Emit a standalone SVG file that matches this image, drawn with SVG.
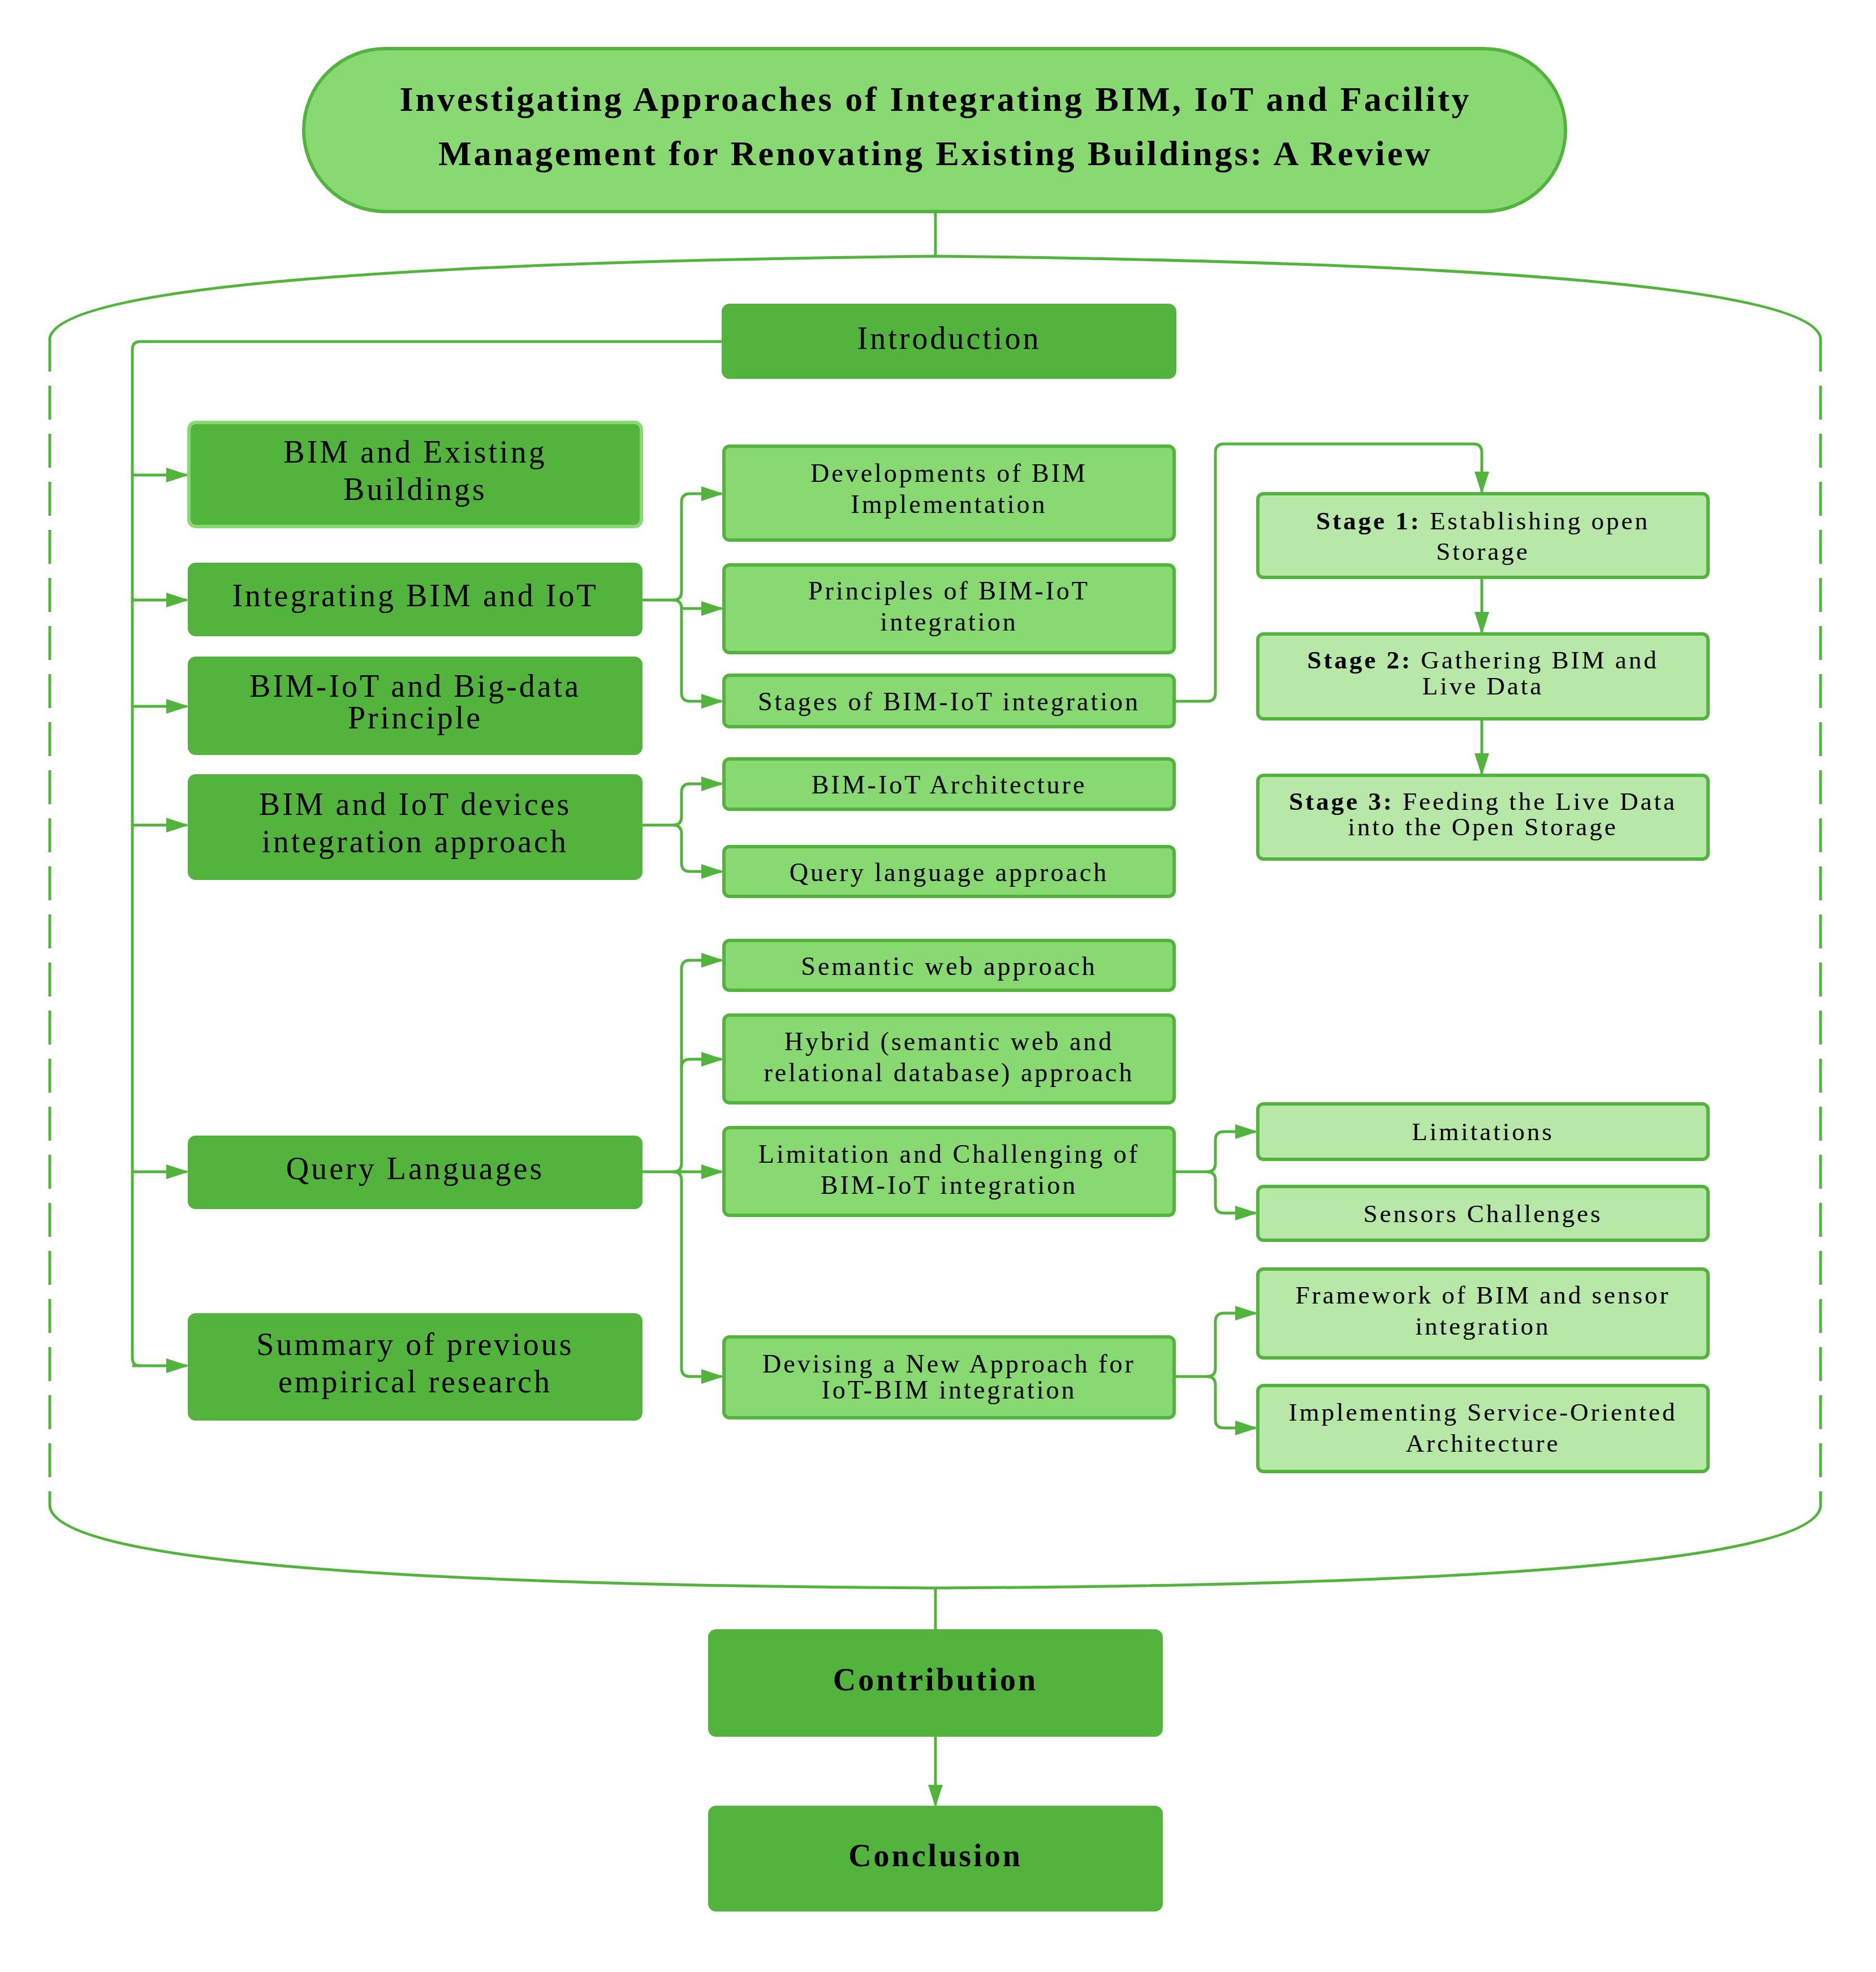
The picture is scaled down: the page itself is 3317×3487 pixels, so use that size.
<svg xmlns="http://www.w3.org/2000/svg" width="3317" height="3487" viewBox="0 0 3317 3487">
<style>
.d{fill:#52b43c;stroke:#52b43c;stroke-width:4}
.m{fill:#88d971;stroke:#52b43c;stroke-width:6}
.l{fill:#b8e8a8;stroke:#52b43c;stroke-width:6}
text{font-family:"Liberation Serif",serif;fill:#000;text-anchor:middle;letter-spacing:4px}
.tl{font-size:56px}
.tm{font-size:46px}
.tr{font-size:45px}
.c{fill:none;stroke:#52b43c;stroke-width:5}
.c path.a{marker-end:url(#A)}
</style>
<defs>
<marker id="A" viewBox="0 0 10 10" refX="9" refY="5" markerWidth="40" markerHeight="26" markerUnits="userSpaceOnUse" orient="auto" preserveAspectRatio="none"><path d="M0,0L10,5L0,10z" fill="#52b43c"/></marker></defs>
<rect width="3317" height="3487" fill="#fff"/>
<g id="connectors" class="c">
<path d="M1654,376V453"/>
<path d="M88,597Q120,470 1654,453Q3190,470 3219,597"/>
<path d="M88,597V2664M3219,597V2664" stroke-dasharray="60,25"/>
<path d="M88,2664Q110,2800 1654,2808Q3200,2800 3219,2664"/>
<path d="M1654,2808V2883"/>
<path class="a" d="M1654,3069V3192"/>
<path d="M1278,604H248q-14,0-14,14V2401q0,14 14,14"/>
<path class="a" d="M234,840H330"/><path class="a" d="M234,1061H330"/><path class="a" d="M234,1249H330"/><path class="a" d="M234,1459H330"/><path class="a" d="M234,2072H330"/><path class="a" d="M234,2415H330"/>
<path class="a" d="M1134,1061H1190q15,0 15,-15V888q0-15 15-15H1276"/>
<path class="a" d="M1190,1061q15,0 15,15H1276"/>
<path class="a" d="M1205,1076V1225q0,15 15,15H1276"/>
<path class="a" d="M1134,1459H1190q15,0 15-15V1401q0-15 15-15H1276"/>
<path class="a" d="M1190,1459q15,0 15,15V1526q0,15 15,15H1276"/>
<path class="a" d="M1134,2072H1190q15,0 15-15V1713q0-15 15-15H1276"/>
<path class="a" d="M1205,1888q0-15 15-15H1276"/>
<path class="a" d="M1190,2072H1276"/>
<path class="a" d="M1190,2072q15,0 15,15V2419q0,15 15,15H1276"/>
<path class="a" d="M2076,1240H2134q15,0 15-15V800q0-15 15-15H2605q15,0 15,15V870"/>
<path class="a" d="M2620,1021V1118"/><path class="a" d="M2620,1271V1368"/>
<path class="a" d="M2076,2072H2134q15,0 15-15V2016q0-15 15-15H2220"/>
<path class="a" d="M2134,2072q15,0 15,15V2130q0,15 15,15H2220"/>
<path class="a" d="M2076,2434H2134q15,0 15-15V2337q0-15 15-15H2220"/>
<path class="a" d="M2134,2434q15,0 15,15V2510q0,15 15,15H2220"/>
</g>
<g id="title"><rect x="537" y="86" width="2231" height="288" rx="144" fill="#88d971" stroke="#52b43c" stroke-width="6"/>
<text x="1654" y="196" font-size="62" font-weight="bold" letter-spacing="6">Investigating Approaches of Integrating BIM, IoT and Facility</text>
<text x="1654" y="292" font-size="62" font-weight="bold" letter-spacing="6">Management for Renovating Existing Buildings: A Review</text></g>
<g id="intro"><rect class="d" x="1278" y="539" width="800" height="129" rx="12"/><text class="tl" x="1678" y="617">Introduction</text></g>
<g id="bimexist"><rect x="334" y="747" width="800" height="184" rx="12" fill="#52b43c" stroke="#88d971" stroke-width="6"/><text class="tl" x="734" y="818">BIM and Existing</text><text class="tl" x="734" y="884">Buildings</text></g>
<g id="integ"><rect class="d" x="334" y="997" width="800" height="126" rx="12"/><text class="tl" x="734" y="1072">Integrating BIM and IoT</text></g>
<g id="bigdata"><rect class="d" x="334" y="1163" width="800" height="170" rx="12"/><text class="tl" x="734" y="1232">BIM-IoT and Big-data</text><text class="tl" x="734" y="1288">Principle</text></g>
<g id="devices"><rect class="d" x="334" y="1371" width="800" height="183" rx="12"/><text class="tl" x="734" y="1441">BIM and IoT devices</text><text class="tl" x="734" y="1507">integration approach</text></g>
<g id="qlang"><rect class="d" x="334" y="2010" width="800" height="126" rx="12"/><text class="tl" x="734" y="2085">Query Languages</text></g>
<g id="summary"><rect class="d" x="334" y="2324" width="800" height="186" rx="12"/><text class="tl" x="734" y="2396">Summary of previous</text><text class="tl" x="734" y="2462">empirical research</text></g>
<g id="dev"><rect class="m" x="1280" y="789" width="796" height="166" rx="10"/><text class="tm" x="1678" y="852">Developments of BIM</text><text class="tm" x="1678" y="907">Implementation</text></g>
<g id="princ"><rect class="m" x="1280" y="999" width="796" height="155" rx="10"/><text class="tm" x="1678" y="1060">Principles of BIM-IoT</text><text class="tm" x="1678" y="1115">integration</text></g>
<g id="stages"><rect class="m" x="1280" y="1194" width="796" height="91" rx="10"/><text class="tm" x="1678" y="1256">Stages of BIM-IoT integration</text></g>
<g id="arch"><rect class="m" x="1280" y="1342" width="796" height="89" rx="10"/><text class="tm" x="1678" y="1403">BIM-IoT Architecture</text></g>
<g id="qla"><rect class="m" x="1280" y="1497" width="796" height="88" rx="10"/><text class="tm" x="1678" y="1558">Query language approach</text></g>
<g id="sem"><rect class="m" x="1280" y="1663" width="796" height="88" rx="10"/><text class="tm" x="1678" y="1724">Semantic web approach</text></g>
<g id="hyb"><rect class="m" x="1280" y="1795" width="796" height="155" rx="10"/><text class="tm" x="1678" y="1857">Hybrid (semantic web and</text><text class="tm" x="1678" y="1912">relational database) approach</text></g>
<g id="limch"><rect class="m" x="1280" y="1994" width="796" height="155" rx="10"/><text class="tm" x="1678" y="2056">Limitation and Challenging of</text><text class="tm" x="1678" y="2111">BIM-IoT integration</text></g>
<g id="devis"><rect class="m" x="1280" y="2364" width="796" height="143" rx="10"/><text class="tm" x="1678" y="2427">Devising a New Approach for</text><text class="tm" x="1678" y="2473">IoT-BIM integration</text></g>
<g id="s1"><rect class="l" x="2224" y="873" width="796" height="148" rx="10"/><text class="tr" x="2622" y="936"><tspan font-weight="bold">Stage 1:</tspan> Establishing open</text><text class="tr" x="2622" y="990">Storage</text></g>
<g id="s2"><rect class="l" x="2224" y="1121" width="796" height="150" rx="10"/><text class="tr" x="2622" y="1182"><tspan font-weight="bold">Stage 2:</tspan> Gathering BIM and</text><text class="tr" x="2622" y="1228">Live Data</text></g>
<g id="s3"><rect class="l" x="2224" y="1371" width="796" height="148" rx="10"/><text class="tr" x="2622" y="1432"><tspan font-weight="bold">Stage 3:</tspan> Feeding the Live Data</text><text class="tr" x="2622" y="1477">into the Open Storage</text></g>
<g id="lim"><rect class="l" x="2224" y="1952" width="796" height="98" rx="10"/><text class="tr" x="2622" y="2016">Limitations</text></g>
<g id="sens"><rect class="l" x="2224" y="2098" width="796" height="95" rx="10"/><text class="tr" x="2622" y="2161">Sensors Challenges</text></g>
<g id="frame"><rect class="l" x="2224" y="2244" width="796" height="157" rx="10"/><text class="tr" x="2622" y="2305">Framework of BIM and sensor</text><text class="tr" x="2622" y="2360">integration</text></g>
<g id="soa"><rect class="l" x="2224" y="2450" width="796" height="152" rx="10"/><text class="tr" x="2622" y="2512">Implementing Service-Oriented</text><text class="tr" x="2622" y="2567">Architecture</text></g>
<g id="contrib"><rect class="d" x="1254" y="2883" width="800" height="186" rx="12"/><text x="1654" y="2989" font-size="56" font-weight="bold">Contribution</text></g>
<g id="concl"><rect class="d" x="1254" y="3195" width="800" height="183" rx="12"/><text x="1654" y="3300" font-size="56" font-weight="bold">Conclusion</text></g>
</svg>
